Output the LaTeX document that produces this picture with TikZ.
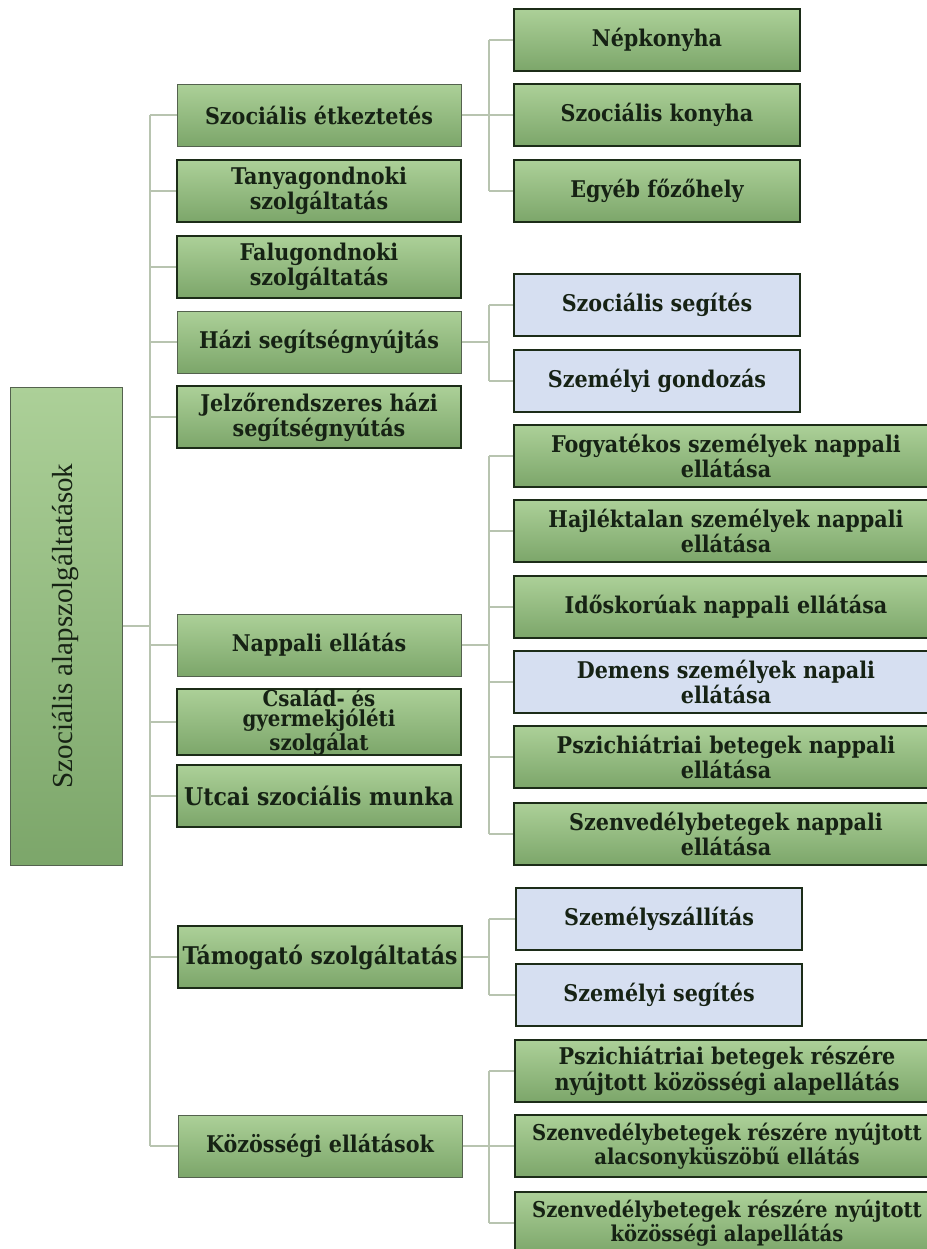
\documentclass[tikz,border=0pt]{standalone}
\usepackage{fontspec}
\usepackage{graphicx}
\setmainfont{DejaVu Serif Condensed Bold}
\newfontfamily\rootfont{Liberation Serif}
\usetikzlibrary{calc,positioning}
\definecolor{boxtop}{RGB}{172,208,152}
\definecolor{boxbot}{RGB}{124,166,106}
\definecolor{bluefill}{RGB}{214,223,241}
\definecolor{darkedge}{RGB}{28,44,24}
\definecolor{softedge}{RGB}{84,98,78}
\definecolor{linkcol}{RGB}{184,196,176}
\definecolor{inkcol}{RGB}{22,34,20}
\tikzset{
  every node/.style={font=\fontsize{11.5}{10.3}\selectfont,text=inkcol},
  basebox/.style={rectangle,align=center,inner sep=0pt,minimum height=31pt,draw=darkedge,line width=1pt},
  greenbox/.style={basebox,top color=boxtop,bottom color=boxbot},
  softbox/.style={greenbox,draw=softedge,line width=0.5pt},
  bluebox/.style={basebox,fill=bluefill},
  lvlone/.style={minimum width=142pt},
  lvltwo/.style={minimum width=143pt},
  widebox/.style={minimum width=212pt},
  bigtext/.style={font=\fontsize{12.2}{11}\selectfont},
  smalltext/.style={font=\fontsize{10.9}{10.3}\selectfont},
  conn/.style={linkcol,line width=0.75pt}
}

\begin{document}
\begin{tikzpicture}[x=0.5pt,y=-0.5pt]
\useasboundingbox (0,0) rectangle (927,1249);
\clip (0,0) rectangle (927,1249);
% root
\node[softbox,minimum width=56pt,minimum height=239pt] (root) at (66,626)
  {\rotatebox{90}{\rootfont\fontsize{14.5}{14.5}\selectfont Szociális alapszolgáltatások}};
% first level
\node[softbox,lvlone] (szetk) at (319,115) {Szociális étkeztetés};
\node[greenbox,lvlone] (tanya) at (319,191) {Tanyagondnoki\\szolgáltatás};
\node[greenbox,lvlone] (falu) at (319,267) {Falugondnoki\\szolgáltatás};
\node[softbox,lvlone] (hazi) at (319,342) {Házi segítségnyújtás};
\node[greenbox,lvlone] (jelzo) at (319,417) {Jelzőrendszeres házi\\segítségnyútás};
\node[softbox,lvlone] (nappali) at (319,645) {Nappali ellátás};
\node[greenbox,lvlone,font=\fontsize{11}{9.9}\selectfont] (csalad) at (319,722) {Család- és\\gyermekjóléti\\szolgálat};
\node[greenbox,lvlone,bigtext] (utcai) at (319,796) {Utcai szociális munka};
\node[greenbox,lvlone,bigtext] (tamog) at (320,957) {Támogató szolgáltatás};
\node[softbox,lvlone] (kozos) at (320,1146) {Közösségi ellátások};
% second level
\node[greenbox,lvltwo] (nepk) at (657,40) {Népkonyha};
\node[greenbox,lvltwo] (szkony) at (657,115) {Szociális konyha};
\node[greenbox,lvltwo] (egyeb) at (657,191) {Egyéb főzőhely};
\node[bluebox,lvltwo] (szocseg) at (657,305) {Szociális segítés};
\node[bluebox,lvltwo] (szemgond) at (657,381) {Személyi gondozás};
\node[greenbox,widebox] (fogy) at (726,456) {Fogyatékos személyek nappali\\ellátása};
\node[greenbox,widebox] (hajl) at (726,531) {Hajléktalan személyek nappali\\ellátása};
\node[greenbox,widebox] (idos) at (726,607) {Időskorúak nappali ellátása};
\node[bluebox,widebox] (demens) at (726,682) {Demens személyek napali\\ellátása};
\node[greenbox,widebox] (pszich) at (726,757) {Pszichiátriai betegek nappali\\ellátása};
\node[greenbox,widebox] (szenv) at (726,834) {Szenvedélybetegek nappali\\ellátása};
\node[bluebox,lvltwo] (szemszall) at (659,919) {Személyszállítás};
\node[bluebox,lvltwo] (szemseg) at (659,995) {Személyi segítés};
\node[greenbox,widebox] (pszkoz) at (727,1071) {Pszichiátriai betegek részére\\nyújtott közösségi alapellátás};
\node[greenbox,widebox,smalltext] (szalacs) at (727,1146) {Szenvedélybetegek részére nyújtott\\alacsonyküszöbű ellátás};
\node[greenbox,widebox,smalltext] (szkoz) at (727,1223) {Szenvedélybetegek részére nyújtott\\közösségi alapellátás};
% trunk
\coordinate (trunk) at (150,627);
\draw[conn] (root.east) -- (trunk |- root.east);
\draw[conn] (trunk |- szetk) -- (trunk |- kozos);
\foreach \n in {szetk,tanya,falu,hazi,jelzo,nappali,csalad,utcai,tamog,kozos}
  \draw[conn] (trunk |- \n) -- (\n.west);
% buses to second level
\coordinate (bus) at (489,0);
\draw[conn] (szetk.east) -- (bus |- szetk.east);
\draw[conn] (bus |- nepk) -- (bus |- egyeb);
\foreach \n in {nepk,szkony,egyeb} \draw[conn] (bus |- \n) -- (\n.west);
\draw[conn] (hazi.east) -- (bus |- hazi.east);
\draw[conn] (bus |- szocseg) -- (bus |- szemgond);
\foreach \n in {szocseg,szemgond} \draw[conn] (bus |- \n) -- (\n.west);
\draw[conn] (nappali.east) -- (bus |- nappali.east);
\draw[conn] (bus |- fogy) -- (bus |- szenv);
\foreach \n in {fogy,hajl,idos,demens,pszich,szenv} \draw[conn] (bus |- \n) -- (\n.west);
\draw[conn] (tamog.east) -- (bus |- tamog.east);
\draw[conn] (bus |- szemszall) -- (bus |- szemseg);
\foreach \n in {szemszall,szemseg} \draw[conn] (bus |- \n) -- (\n.west);
\draw[conn] (kozos.east) -- (bus |- kozos.east);
\draw[conn] (bus |- pszkoz) -- (bus |- szkoz);
\foreach \n in {pszkoz,szalacs,szkoz} \draw[conn] (bus |- \n) -- (\n.west);
\end{tikzpicture}
\end{document}
